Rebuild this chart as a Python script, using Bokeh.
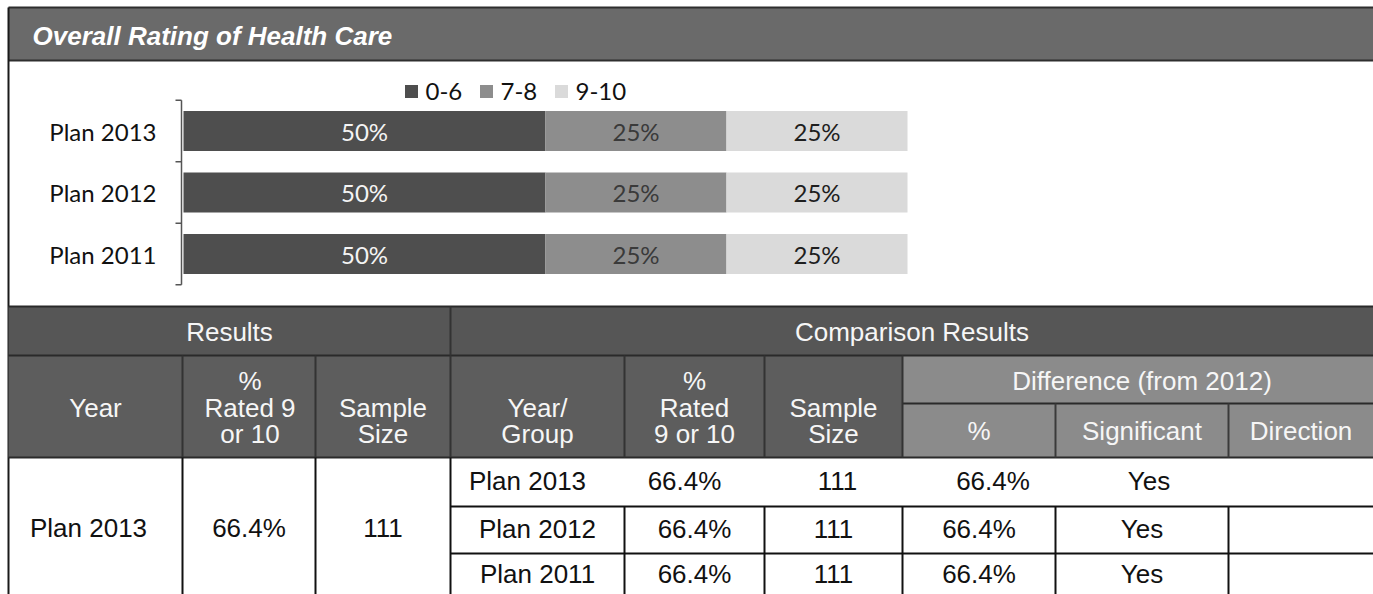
from bokeh.plotting import figure
from bokeh.models import Range1d, ColumnDataSource
from bokeh.embed import file_html
from bokeh.resources import INLINE
from bokeh.core.properties import value

# ---------------- data ----------------
title_text = "Overall  Rating of Health Care"
plans = ["Plan 2013", "Plan 2012", "Plan 2011"]
rating_bands = ["0-6", "7-8", "9-10"]
share_0_6 = [50, 50, 50]
share_7_8 = [25, 25, 25]
share_9_10 = [25, 25, 25]

results_header = "Results"
comparison_header = "Comparison Results"
difference_header = "Difference (from 2012)"
results_year = "Plan 2013"
results_pct_9_10 = 66.4
results_sample = 111
comp_groups = ["Plan 2013", "Plan 2012", "Plan 2011"]
comp_pct_9_10 = [66.4, 66.4, 66.4]
comp_sample = [111, 111, 111]
diff_pct = [66.4, 66.4, 66.4]
diff_significant = ["Yes", "Yes", "Yes"]
diff_direction = ["", "", ""]

# ---------------- layout / style ----------------
W, H = 1373, 594
BAR_X0, PX_PER_PCT = 183.0, 7.24
ROW_Y0, ROW_STEP = 130.5, 61.5
band_colors = ["#4e4e4e", "#8d8d8d", "#dadada"]
band_text_colors = ["#f4f4f4", "#3a3a3a", "#1e1e1e"]
CHART_FONT = "Lato"
TABLE_FONT = "Liberation Sans"

p = figure(width=W, height=H, x_range=Range1d(0, W), y_range=Range1d(H, 0),
           output_backend="svg", toolbar_location=None, min_border=0,
           x_axis_location=None, y_axis_location=None,
           outline_line_color=None, background_fill_color="white",
           border_fill_color="white")
p.grid.visible = False
p.extra_x_ranges = {"pct": Range1d(-BAR_X0 / PX_PER_PCT, (W - BAR_X0) / PX_PER_PCT)}
p.extra_y_ranges = {"row": Range1d((H - ROW_Y0) / ROW_STEP, -ROW_Y0 / ROW_STEP)}

def txt(x, y, t, size="26px", color="#111111", align="center", font=TABLE_FONT,
        style="normal", **kw):
    p.text(x=x, y=y, text=t, text_font=value(font), text_font_size=value(size),
           text_color=color, text_align=align, text_baseline="middle",
           text_font_style=style, **kw)

# ---------------- title bar ----------------
p.quad(left=[8], right=[W], top=[7], bottom=[60], fill_color="#6a6a6a", line_color=None)
p.segment(x0=[8, 8], y0=[7, 60], x1=[W, W], y1=[7, 60], line_color="#2e2e2e", line_width=2)
p.segment(x0=[8], y0=[7], x1=[8], y1=[H], line_color="#1a1a1a", line_width=2)
txt([32], [35], [title_text], size="26px", color="white", align="left", style="bold italic")

# ---------------- stacked bars ----------------
rows = list(range(len(plans)))
series = [share_0_6, share_7_8, share_9_10]
left = [0.0] * len(plans)
for k, vals in enumerate(series):
    right = [l + v for l, v in zip(left, vals)]
    src = ColumnDataSource(dict(row=rows, left=left, right=right,
                                mid=[(l + r) / 2 for l, r in zip(left, right)],
                                lab=[f"{v}%" for v in vals]))
    p.hbar(y="row", left="left", right="right", height=0.65, source=src,
           fill_color=band_colors[k], line_color=None,
           x_range_name="pct", y_range_name="row")
    p.text(x="mid", y="row", text="lab", source=src, x_range_name="pct", y_range_name="row",
           text_font=value(CHART_FONT), text_font_size=value("24px"),
           text_color=band_text_colors[k], text_align="center", text_baseline="middle")
    left = right

# category labels and bracket axis
txt([156] * len(plans), rows, plans, size="24px", color="#111111", align="right",
    font=CHART_FONT, y_range_name="row")
edges = [r - 0.5 for r in rows] + [rows[-1] + 0.5]
p.segment(x0=[181], y0=[edges[0]], x1=[181], y1=[edges[-1]], line_color="#555555",
          line_width=1.5, y_range_name="row")
p.segment(x0=[175] * len(edges), y0=edges, x1=[181] * len(edges), y1=edges,
          line_color="#555555", line_width=1.5, y_range_name="row")

# legend
leg_sq_x = [411, 486, 561]
leg_tx_x = [425, 500, 575]
p.rect(x=leg_sq_x, y=[91] * 3, width=13, height=13, fill_color=band_colors,
       line_color=None)
txt(leg_tx_x, [91] * 3, rating_bands, size="24px", color="#111111", align="left",
    font=CHART_FONT)

# ---------------- table ----------------
C = [8, 182, 315, 450, 624, 764, 902, 1055, 1228, W]
T0, T1, TD, T2 = 306, 355, 403, 457
R = [457, 506, 553, 600]
HDR_DARK, HDR_MID, HDR_TOP = "#5d5d5d", "#8b8b8b", "#565656"

p.quad(left=[C[0]], right=[W], top=[T0], bottom=[T1], fill_color=HDR_TOP, line_color=None)
p.quad(left=[C[0]], right=[C[6]], top=[T1], bottom=[T2], fill_color=HDR_DARK, line_color=None)
p.quad(left=[C[6]], right=[W], top=[T1], bottom=[T2], fill_color=HDR_MID, line_color=None)

# header lines
hx0 = [C[0], C[0], C[6], C[0]]
hx1 = [W, W, W, W]
hy = [T0, T1, TD, T2]
p.segment(x0=hx0, y0=hy, x1=hx1, y1=hy, line_color="#2a2a2a", line_width=2)
# vertical separators through the full header height
full_v = C[1:7]
p.segment(x0=[C[3]], y0=[T0], x1=[C[3]], y1=[T1], line_color="#333333", line_width=2)
p.segment(x0=full_v, y0=[T1] * len(full_v), x1=full_v, y1=[T2] * len(full_v),
          line_color="#333333", line_width=2)
# separators of the difference sub-header
p.segment(x0=[C[7], C[8]], y0=[TD, TD], x1=[C[7], C[8]], y1=[T2, T2],
          line_color="#3a3a3a", line_width=2)

# data lines
p.segment(x0=[C[3], C[3]], y0=[R[1], R[2]], x1=[W, W], y1=[R[1], R[2]],
          line_color="#111111", line_width=2)
p.segment(x0=C[1:4], y0=[R[0]] * 3, x1=C[1:4], y1=[H] * 3, line_color="#111111", line_width=2)
p.segment(x0=C[4:9], y0=[R[1]] * 5, x1=C[4:9], y1=[H] * 5, line_color="#111111", line_width=2)

# header texts
WHITE = "#f6f6f6"
txt([(C[0] + C[3]) / 2], [331], [results_header], color=WHITE)
txt([(C[3] + W) / 2], [331], [comparison_header], color=WHITE)
L1, L2, L3 = 380, 407, 433
hdr_cols = [
    (0, ["", "Year", ""]),
    (1, ["%", "Rated 9", "or 10"]),
    (2, ["", "Sample", "Size"]),
    (3, ["", "Year/", "Group"]),
    (4, ["%", "Rated", "9 or 10"]),
    (5, ["", "Sample", "Size"]),
]
hx, hyy, ht = [], [], []
for ci, lines in hdr_cols:
    for yy, t in zip([L1, L2, L3], lines):
        if t:
            hx.append((C[ci] + C[ci + 1]) / 2 + (1 if ci == 1 else 0))
            hyy.append(yy)
            ht.append(t)
txt(hx, hyy, ht, color=WHITE)
txt([(C[6] + W) / 2 + 4], [L1], [difference_header], color=WHITE)
txt([(C[6] + C[7]) / 2, (C[7] + C[8]) / 2, (C[8] + W) / 2],
    [430] * 3, ["%", "Significant", "Direction"], color=WHITE)

# results (merged cells)
txt([88, (C[1] + C[2]) / 2, (C[2] + C[3]) / 2], [527] * 3,
    [results_year, f"{results_pct_9_10}%", f"{results_sample}"])

# comparison rows
row_y = [480, 528, 573]
first_row_shift = [-10, -10, 4, 14, 7, 0]
for i, g in enumerate(comp_groups):
    cells = [g, f"{comp_pct_9_10[i]}%", f"{comp_sample[i]}", f"{diff_pct[i]}%",
             diff_significant[i], diff_direction[i]]
    xs = []
    for j in range(6):
        cx = (C[3 + j] + C[4 + j]) / 2
        if i == 0:
            cx += first_row_shift[j]
        xs.append(cx)
    keep = [k for k, c in enumerate(cells) if c]
    txt([xs[k] for k in keep], [row_y[i]] * len(keep), [cells[k] for k in keep])

open("out.html", "w").write(file_html(p, INLINE))
